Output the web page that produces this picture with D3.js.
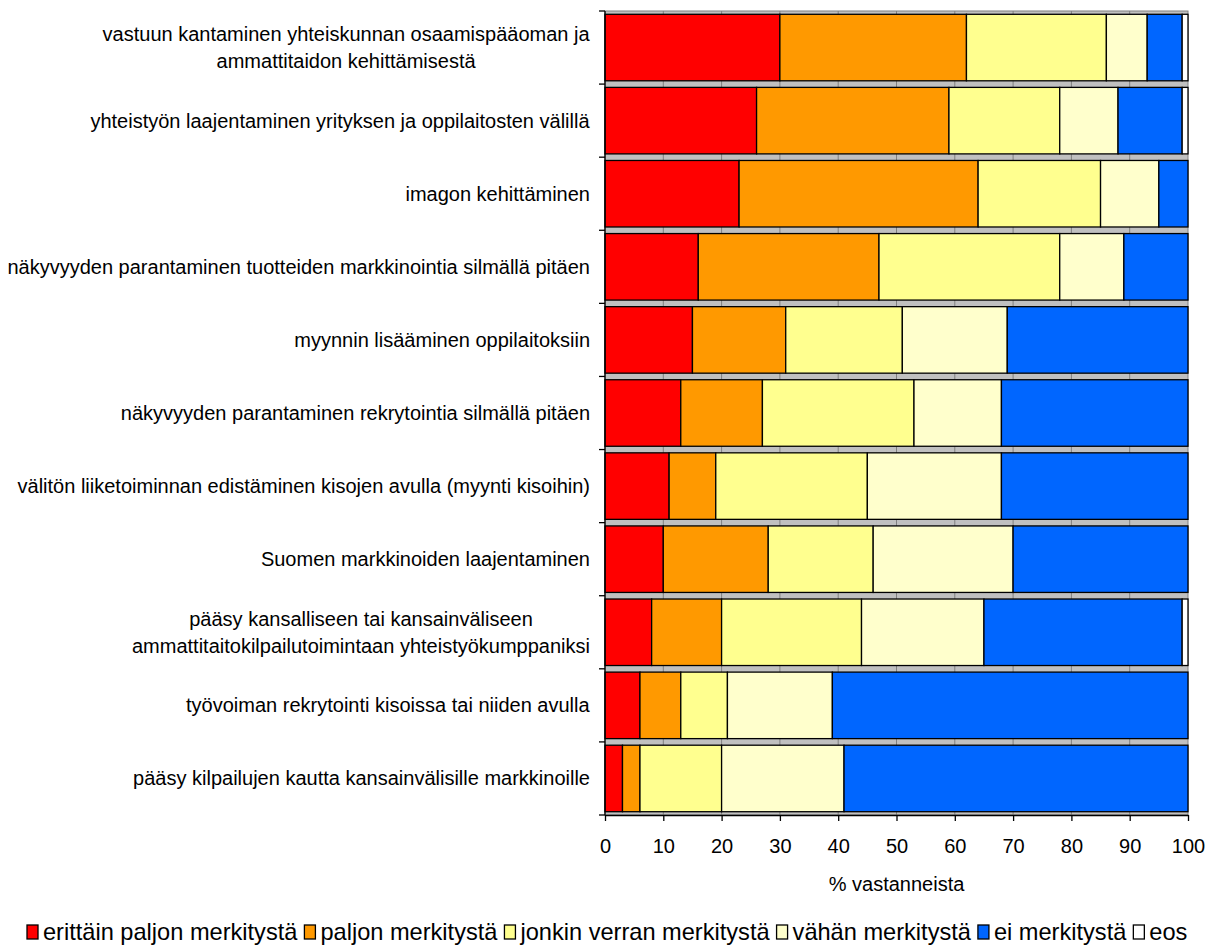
<!DOCTYPE html>
<html><head><meta charset="utf-8">
<script src="https://cdn.jsdelivr.net/npm/d3@7"></script>
<style>body{margin:0;background:#fff}svg{display:block}text{font-family:"Liberation Sans",Arial,sans-serif;fill:#000}</style>
</head><body><svg id="c" width="1210" height="949"></svg>
<script>
const categories = [
  ["vastuun kantaminen yhteiskunnan osaamispääoman ja","ammattitaidon kehittämisestä"],
  ["yhteistyön laajentaminen yrityksen ja oppilaitosten välillä"],
  ["imagon kehittäminen"],
  ["näkyvyyden parantaminen tuotteiden markkinointia silmällä pitäen"],
  ["myynnin lisääminen oppilaitoksiin"],
  ["näkyvyyden parantaminen rekrytointia silmällä pitäen"],
  ["välitön liiketoiminnan edistäminen kisojen avulla (myynti kisoihin)"],
  ["Suomen markkinoiden laajentaminen"],
  ["pääsy kansalliseen tai kansainväliseen","ammattitaitokilpailutoimintaan yhteistyökumppaniksi"],
  ["työvoiman rekrytointi kisoissa tai niiden avulla"],
  ["pääsy kilpailujen kautta kansainvälisille markkinoille"]
];
const seriesNames = ["erittäin paljon merkitystä","paljon merkitystä","jonkin verran merkitystä","vähän merkitystä","ei merkitystä","eos"];
const seriesColors = ["#FF0000","#FF9900","#FFFF8F","#FFFFCC","#0066FF","#FFFFFF"];
const erittainPaljon = [30,26,23,16,15,13,11,10,8,6,3];
const paljon         = [32,33,41,31,16,14, 8,18,12,7,3];
const jonkinVerran   = [24,19,21,31,20,26,26,18,24,8,14];
const vahan          = [ 7,10,10,11,18,15,23,24,21,18,21];
const eiMerkitysta   = [ 6,11, 5,11,31,32,32,30,34,61,59];
const eos            = [ 1, 1, 0, 0, 0, 0, 0, 0, 1, 0, 0];
const xTicks = [0,10,20,30,40,50,60,70,80,90,100];

const seriesData = [erittainPaljon,paljon,jonkinVerran,vahan,eiMerkitysta,eos];
const rows = categories.map((c,i)=>{const r={i}; seriesNames.forEach((s,k)=>r[s]=seriesData[k][i]); return r;});
const stack = d3.stack().keys(seriesNames)(rows);

const svg = d3.select("#c");
const L=605,R=1188,T=11,B=815;
const FS=20;
const x = d3.scaleLinear().domain([0,100]).range([L,R]);
const y = d3.scaleBand().domain(d3.range(categories.length)).range([T,B]).paddingInner(0.09).paddingOuter(0.045);

svg.append("rect").attr("x",L).attr("y",T).attr("width",R-L).attr("height",B-T).attr("fill","#C0C0C0").attr("stroke","#808080").attr("stroke-width",1);
svg.append("g").selectAll("line").data(xTicks.slice(1,-1)).join("line")
  .attr("x1",d=>x(d)).attr("x2",d=>x(d)).attr("y1",T).attr("y2",B).attr("stroke","#808080").attr("stroke-width",1);

const g = svg.append("g");
stack.forEach((layer,k)=>{
  g.append("g").attr("fill",seriesColors[k]).selectAll("rect").data(layer.filter(d=>d[1]-d[0]>0)).join("rect")
   .attr("x",d=>x(d[0])).attr("width",d=>x(d[1])-x(d[0]))
   .attr("y",d=>y(d.data.i)).attr("height",y.bandwidth())
   .attr("stroke","#000").attr("stroke-width",1.3);
});

// x axis
const xa = svg.append("g").attr("transform",`translate(0,${B})`)
  .call(d3.axisBottom(x).tickValues(xTicks).tickSize(6).tickSizeOuter(0).tickPadding(18));
xa.select(".domain").attr("stroke","#000").attr("stroke-width",1.3);
xa.selectAll(".tick line").attr("stroke","#000").attr("stroke-width",1.3);
xa.selectAll("text").attr("font-size",FS).style("font-family",'"Liberation Sans",Arial,sans-serif');

// y axis
svg.append("line").attr("x1",L).attr("x2",L).attr("y1",T).attr("y2",B).attr("stroke","#000").attr("stroke-width",1.3);
const step = y.step();
const bounds = d3.range(categories.length+1).map(i=> i===0?T:(i===categories.length?B:y(i)-step*y.paddingInner()/2));
svg.append("g").selectAll("line").data(bounds).join("line")
  .attr("x1",L-6).attr("x2",L).attr("y1",d=>d).attr("y2",d=>d).attr("stroke","#000").attr("stroke-width",1.3);

// category labels
const lab = svg.append("g");
categories.forEach((lines,i)=>{
  const cy = y(i)+y.bandwidth()/2;
  const lh = 27;
  const t = lab.append("text").attr("text-anchor","middle").attr("font-size",FS);
  lines.forEach((ln,j)=>{
    t.append("tspan").attr("x",0).attr("y",cy+(j-(lines.length-1)/2)*lh).attr("dy","0.35em").text(ln);
  });
  const w = t.node().getBBox().width;
  t.attr("transform",`translate(${590-w/2},0)`);
});

svg.append("text").attr("x",(L+R)/2).attr("y",884).attr("dy","0.35em").attr("text-anchor","middle").attr("font-size",FS).text("% vastanneista");

// legend
const leg = svg.append("g");
const ly = 932, sqW = 11, txtOff = 16, gapL = 7;
function buildLegend(fs){
  leg.selectAll("*").remove();
  const items=[];
  seriesNames.forEach((n,k)=>{
    const gi = leg.append("g");
    gi.append("rect").attr("x",0).attr("y",-7).attr("width",sqW).attr("height",14).attr("fill",seriesColors[k]).attr("stroke","#000").attr("stroke-width",1.3);
    gi.append("text").attr("x",txtOff).attr("y",0).attr("dy","0.35em").attr("font-size",fs).text(n);
    items.push(gi);
  });
  return items;
}
let items = buildLegend(FS);
let tw = d3.sum(items, gi=>gi.select("text").node().getComputedTextLength());
const avail = 1188-27 - gapL*(items.length-1) - txtOff*items.length;
const fs2 = FS*avail/tw;
items = buildLegend(fs2);
const widths = items.map(gi=>txtOff+gi.select("text").node().getComputedTextLength());
let lx = 27;
items.forEach((gi,k)=>{gi.attr("transform",`translate(${lx},${ly})`); lx+=widths[k]+gapL;});
</script></body></html>
